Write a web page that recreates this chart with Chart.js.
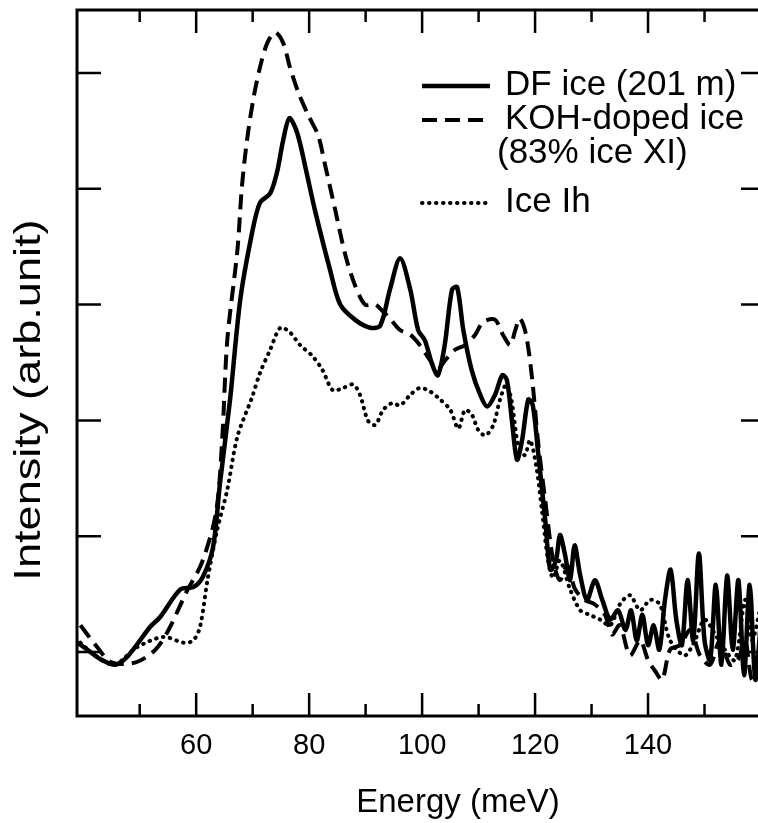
<!DOCTYPE html>
<html>
<head>
<meta charset="utf-8">
<script src="https://cdn.jsdelivr.net/npm/chart.js@4.4.1/dist/chart.umd.min.js"></script>
<style>
  html, body { margin: 0; padding: 0; background: #fff; overflow: hidden; }
  #chart { display: block; }
</style>
</head>
<body>
<canvas id="chart" width="780" height="823"></canvas>
<script>
'use strict'

// DF ice (201 m), solid
const dfEnergy = [39.0, 41.0, 43.0, 45.7, 48.0, 51.9, 53.6, 57.2, 59.5, 61.2, 63.0, 64.2, 66.0, 67.8, 69.9, 71.3, 73.1, 74.3, 75.4, 76.5, 77.9, 79.5, 81.0, 83.7, 85.5, 88.1, 90.8, 92.6, 94.3, 96.1, 97.9, 99.3, 100.5, 101.8, 102.8, 104.0, 105.3, 106.2, 107.3, 108.8, 110.3, 111.5, 112.9, 114.2, 115.0, 115.9, 116.8, 117.7, 118.8, 119.6, 120.5, 121.8, 122.7, 123.7, 124.4, 125.3, 126.2, 127.0, 128.0, 129.2, 130.6, 131.9, 133.3, 134.7, 136, 137, 138, 139, 140, 141, 142, 143, 144, 145, 146, 147, 148, 149, 150, 151, 152, 153, 154, 155, 156, 157, 158, 159, 160]
const dfIntensity = [0.08, 0.01, -0.06, -0.11, -0.03, 0.22, 0.30, 0.54, 0.56, 0.65, 0.91, 1.45, 2.18, 3.04, 3.62, 3.88, 3.96, 4.14, 4.42, 4.61, 4.48, 4.15, 3.82, 3.30, 3.00, 2.87, 2.80, 2.82, 3.13, 3.40, 3.13, 2.78, 2.69, 2.48, 2.39, 2.65, 3.13, 3.15, 2.78, 2.43, 2.22, 2.12, 2.22, 2.39, 2.35, 2.00, 1.66, 1.83, 2.18, 2.13, 1.74, 1.14, 0.71, 0.79, 1.01, 0.84, 0.62, 0.92, 0.66, 0.45, 0.62, 0.45, 0.28, 0.36, 0.19, 0.36, 0.10, 0.32, 0.06, 0.23, 0.02, 0.45, 0.71, 0.28, 0.06, 0.62, 0.10, 0.85, 0.10, -0.07, 0.58, -0.11, 0.66, 0.02, 0.62, -0.20, 0.58, -0.24, 0.28]

// KOH-doped ice (83% ice XI), dashed
const kohEnergy = [39.5, 42.5, 45.0, 49.3, 52.8, 55.1, 58.3, 61.0, 63.5, 64.6, 65.5, 67.3, 68.1, 69.0, 70.1, 71.3, 72.6, 74.0, 75.4, 76.6, 78.1, 79.8, 81.6, 82.8, 84.6, 86.4, 88.1, 89.9, 91.7, 93.1, 94.3, 96.1, 97.9, 99.6, 101.4, 102.7, 104.1, 105.8, 107.6, 109.4, 110.8, 112.9, 114.3, 115.6, 116.5, 117.3, 118.4, 119.5, 120.5, 121.8, 123.2, 124.4, 125.7, 127.1, 128.8, 130.6, 132.4, 133.6, 135.0, 136.8, 138.6, 140.0, 141.2, 142.5, 143.9, 145.7, 147.5, 149.2, 151.0, 152.7, 154.5, 155.9, 157.2, 158.4, 159.8]
const kohIntensity = [0.23, 0.04, -0.09, -0.09, 0.02, 0.19, 0.52, 0.77, 1.20, 1.83, 2.69, 3.47, 4.02, 4.42, 4.77, 5.05, 5.26, 5.35, 5.26, 5.05, 4.83, 4.64, 4.46, 4.21, 3.82, 3.43, 3.17, 3.00, 3.00, 2.94, 2.88, 2.78, 2.74, 2.65, 2.52, 2.44, 2.52, 2.61, 2.65, 2.74, 2.85, 2.87, 2.74, 2.65, 2.78, 2.88, 2.74, 2.35, 1.83, 1.31, 0.79, 0.62, 0.75, 0.54, 0.45, 0.41, 0.32, 0.15, 0.23, -0.03, 0.10, -0.07, -0.16, -0.24, 0.02, 0.06, 0.19, -0.03, -0.11, 0.10, -0.11, -0.07, 0.10, -0.24, -0.07]

// Ice Ih, dotted
const ihEnergy = [39.5, 42.1, 45.5, 49.5, 54.2, 57.8, 59.5, 60.7, 62.0, 63.7, 65.5, 67.3, 69.9, 71.3, 73.1, 74.9, 76.6, 78.4, 80.5, 82.3, 84.2, 86.0, 87.8, 89.0, 90.4, 91.7, 93.1, 94.7, 96.1, 97.9, 99.6, 101.4, 103.2, 105.0, 106.4, 107.6, 108.8, 109.9, 111.2, 112.6, 113.8, 114.9, 115.8, 117.0, 118.2, 119.1, 120.2, 121.2, 122.3, 123.2, 124.4, 126.2, 128.0, 129.7, 131.5, 133.3, 135.0, 136.8, 138.6, 140.4, 142.1, 143.9, 146.5, 148.3, 150.0, 151.9, 153.6, 155.4, 157.2, 158.4, 159.8]
const ihIntensity = [0.08, -0.03, -0.11, 0.04, 0.13, 0.08, 0.10, 0.22, 0.62, 1.05, 1.40, 1.86, 2.20, 2.41, 2.61, 2.80, 2.76, 2.65, 2.56, 2.44, 2.26, 2.28, 2.31, 2.22, 2.00, 1.96, 2.09, 2.15, 2.13, 2.22, 2.28, 2.25, 2.18, 2.09, 1.93, 2.09, 2.05, 1.92, 1.87, 1.96, 2.18, 2.31, 2.18, 1.79, 1.70, 1.83, 1.61, 1.23, 0.79, 0.64, 0.79, 0.54, 0.36, 0.32, 0.28, 0.23, 0.41, 0.49, 0.36, 0.45, 0.41, 0.10, -0.03, 0.10, 0.28, 0.15, 0.02, -0.07, 0.45, 0.10, 0.36]

const xLabelTicks = [60, 80, 100, 120, 140]
const xMajorTicks = [60, 80, 100, 120, 140]
const xMinorTicks = [50, 70, 90, 110, 130, 150]
const yTicks = [0, 1, 2, 3, 4, 5]

const FONT = "'Liberation Sans', Arial, Helvetica, sans-serif"

const pairs = (xs, ys) => xs.map((x, i) => ({ x, y: ys[i] }))

const frameAndTicks = {
  id: 'frameAndTicks',
  afterDatasetsDraw (chart) {
    const { ctx, chartArea: a, scales } = chart
    ctx.save()
    ctx.strokeStyle = '#000'
    ctx.lineCap = 'butt'
    ctx.lineWidth = 3
    ctx.strokeRect(a.left, a.top, a.right - a.left, a.bottom - a.top)

    ctx.lineWidth = 2.5
    const vtick = (v, len) => {
      const px = scales.x.getPixelForValue(v)
      ctx.beginPath()
      ctx.moveTo(px, a.bottom); ctx.lineTo(px, a.bottom - len)
      ctx.moveTo(px, a.top); ctx.lineTo(px, a.top + len)
      ctx.stroke()
    }
    xMajorTicks.forEach(v => vtick(v, 23))
    xMinorTicks.forEach(v => vtick(v, 12))
    yTicks.forEach(v => {
      const py = scales.y.getPixelForValue(v)
      ctx.beginPath()
      ctx.moveTo(a.left, py); ctx.lineTo(a.left + 24, py)
      ctx.moveTo(a.right, py); ctx.lineTo(a.right - 20, py)
      ctx.stroke()
    })
    ctx.restore()

    ctx.save()
    ctx.fillStyle = '#000'
    ctx.textAlign = 'center'
    ctx.textBaseline = 'middle'

    // x title
    ctx.font = `33px ${FONT}`
    ctx.fillText('Energy (meV)', 458, 803)

    // y title, a little wider set than the plain face
    ctx.font = `37px ${FONT}`
    ctx.translate(30, 400)
    ctx.rotate(-Math.PI / 2)
    ctx.scale(1.22, 1)
    ctx.fillText('Intensity (arb.unit)', 0, 0)
    ctx.restore()

    // legend
    ctx.save()
    ctx.fillStyle = '#000'
    ctx.font = `35px ${FONT}`
    ctx.textAlign = 'left'
    ctx.textBaseline = 'middle'
    const rows = [
      { ds: 0, y: 85, x: 505, text: 'DF ice (201 m)' },
      { ds: 1, y: 119, x: 505, text: 'KOH-doped ice' },
      { ds: null, y: 153, x: 497, text: '(83% ice XI)' },
      { ds: 2, y: 202, x: 505, text: 'Ice Ih' }
    ]
    rows.forEach(r => {
      if (r.ds !== null) {
        const d = chart.data.datasets[r.ds]
        ctx.beginPath()
        ctx.lineWidth = d.borderWidth
        ctx.setLineDash(d.borderDash || [])
        ctx.lineCap = d.borderCapStyle || 'butt'
        ctx.moveTo(422, r.y + 1); ctx.lineTo(490, r.y + 1)
        ctx.stroke()
        ctx.setLineDash([])
      }
      ctx.fillText(r.text, r.x, r.y)
    })
    ctx.restore()
  }
}

new Chart(document.getElementById('chart'), {
  type: 'line',
  data: {
    datasets: [
      {
        label: 'DF ice (201 m)',
        data: pairs(dfEnergy, dfIntensity),
        borderColor: '#000',
        borderWidth: 4.5,
        borderDash: [],
        borderCapStyle: 'butt',
        tension: 0.3,
        pointRadius: 0
      },
      {
        label: 'KOH-doped ice (83% ice XI)',
        data: pairs(kohEnergy, kohIntensity),
        borderColor: '#000',
        borderWidth: 4,
        borderDash: [15, 8],
        borderCapStyle: 'butt',
        tension: 0.3,
        pointRadius: 0
      },
      {
        label: 'Ice Ih',
        data: pairs(ihEnergy, ihIntensity),
        borderColor: '#000',
        borderWidth: 4,
        borderDash: [0.5, 6.5],
        borderCapStyle: 'round',
        tension: 0.3,
        pointRadius: 0
      }
    ]
  },
  options: {
    responsive: false,
    animation: false,
    devicePixelRatio: 1,
    layout: { padding: { left: 77, right: 19, top: 10, bottom: 0 } },
    plugins: {
      legend: { display: false },
      tooltip: { enabled: false }
    },
    scales: {
      x: {
        type: 'linear',
        min: 38.9,
        max: 160,
        grid: { display: false, drawTicks: false },
        border: { display: false },
        afterBuildTicks: scale => { scale.ticks = xLabelTicks.map(v => ({ value: v })) },
        afterFit: scale => { scale.height = 107 },
        ticks: {
          color: '#000',
          padding: 13,
          maxRotation: 0,
          font: { family: FONT, size: 29 }
        }
      },
      y: {
        type: 'linear',
        min: -0.553,
        max: 5.544,
        display: false
      }
    }
  },
  plugins: [frameAndTicks]
})
</script>
</body>
</html>
